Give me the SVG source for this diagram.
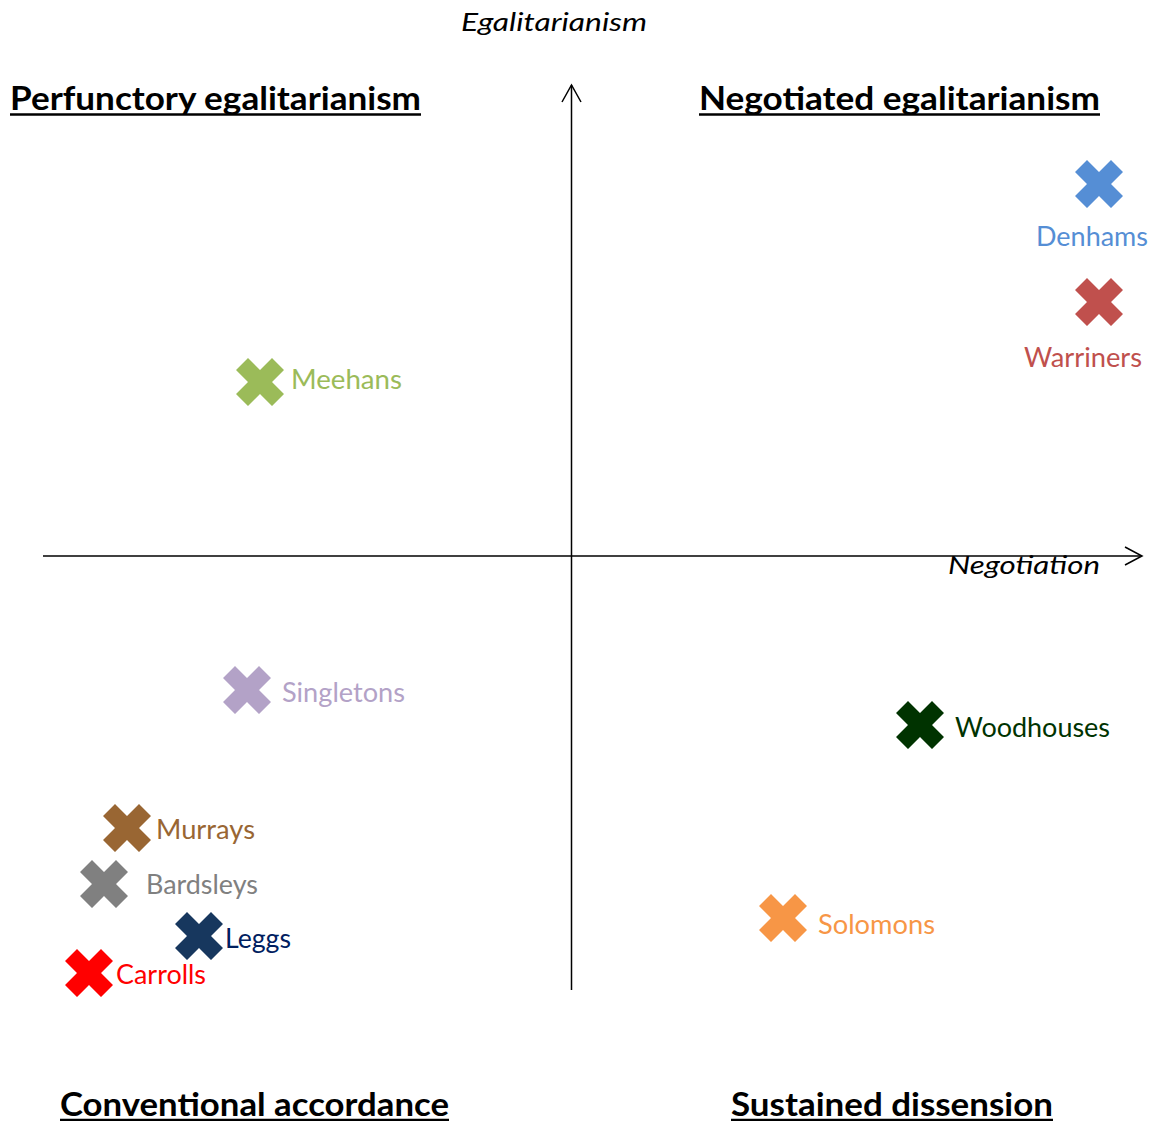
<svg xmlns="http://www.w3.org/2000/svg" width="1161" height="1121" viewBox="0 0 1161 1121">
<style>
.t{font-family:Lato,"Open Sans","Liberation Sans",sans-serif;}
.title{font-size:33px;font-weight:bold;fill:#000;}
.ul{stroke:#000;stroke-width:2.5;}
.axl{font-size:26px;font-style:italic;fill:#000;}
.lbl{font-size:26px;}
.ax{stroke:#000;stroke-width:1.5;fill:none;}
</style>
<defs>
<path id="x" d="M0,-12 L12,-24 L24,-12 L12,0 L24,12 L12,24 L0,12 L-12,24 L-24,12 L-12,0 L-24,-12 L-12,-24 Z"/>
</defs>
<rect width="1161" height="1121" fill="#fff"/>
<g id="connectors">
<line class="ax" x1="571.5" y1="990" x2="571.5" y2="85"/>
<polyline class="ax" points="562,102 571.5,85 581,102"/>
<line class="ax" x1="43" y1="556" x2="1141" y2="556"/>
<polyline class="ax" points="1125,547 1142,556 1125,565"/>
</g>
<g id="titles" class="t">
<text class="title" x="10" y="110" textLength="411" lengthAdjust="spacingAndGlyphs">Perfunctory egalitarianism</text>
<line class="ul" x1="10" y1="114.5" x2="421" y2="114.5"/>
<text class="title" x="699" y="110" textLength="401" lengthAdjust="spacingAndGlyphs">Negotiated egalitarianism</text>
<line class="ul" x1="699" y1="114.5" x2="1100" y2="114.5"/>
<text class="title" x="60" y="1116" textLength="389" lengthAdjust="spacingAndGlyphs">Conventional accordance</text>
<line class="ul" x1="60" y1="1120" x2="449" y2="1120"/>
<text class="title" x="731" y="1116" textLength="322" lengthAdjust="spacingAndGlyphs">Sustained dissension</text>
<line class="ul" x1="731" y1="1120" x2="1053" y2="1120"/>
<text class="axl" x="461" y="31" textLength="186" lengthAdjust="spacingAndGlyphs">Egalitarianism</text>
<text class="axl" x="948" y="574" textLength="152" lengthAdjust="spacingAndGlyphs">Negotiation</text>
</g>
<g id="denhams" class="t">
<use href="#x" x="1099" y="184" fill="#558ed5"/>
<text class="lbl" x="1036" y="246" fill="#558ed5" textLength="112" lengthAdjust="spacingAndGlyphs">Denhams</text>
</g>
<g id="warriners" class="t">
<use href="#x" x="1099" y="302" fill="#c0504d"/>
<text class="lbl" x="1024" y="367" fill="#c0504d" textLength="118" lengthAdjust="spacingAndGlyphs">Warriners</text>
</g>
<g id="meehans" class="t">
<use href="#x" x="260" y="382" fill="#9bbb59"/>
<text class="lbl" x="291" y="389" fill="#9bbb59" textLength="111" lengthAdjust="spacingAndGlyphs">Meehans</text>
</g>
<g id="singletons" class="t">
<use href="#x" x="247" y="690" fill="#b3a2c7"/>
<text class="lbl" x="282" y="702" fill="#b3a2c7" textLength="123" lengthAdjust="spacingAndGlyphs">Singletons</text>
</g>
<g id="woodhouses" class="t">
<use href="#x" x="920" y="725" fill="#003300"/>
<text class="lbl" x="955" y="737" fill="#003300" textLength="155" lengthAdjust="spacingAndGlyphs">Woodhouses</text>
</g>
<g id="murrays" class="t">
<use href="#x" x="127" y="828" fill="#996633"/>
<text class="lbl" x="156" y="839" fill="#996633" textLength="99" lengthAdjust="spacingAndGlyphs">Murrays</text>
</g>
<g id="bardsleys" class="t">
<use href="#x" x="104" y="884" fill="#808080"/>
<text class="lbl" x="146" y="894" fill="#808080" textLength="112" lengthAdjust="spacingAndGlyphs">Bardsleys</text>
</g>
<g id="leggs" class="t">
<use href="#x" x="199" y="936" fill="#17375e"/>
<text class="lbl" x="225" y="948" fill="#002060" textLength="66" lengthAdjust="spacingAndGlyphs">Leggs</text>
</g>
<g id="carrolls" class="t">
<use href="#x" x="89" y="973" fill="#ff0000"/>
<text class="lbl" x="116" y="984" fill="#ff0000" textLength="90" lengthAdjust="spacingAndGlyphs">Carrolls</text>
</g>
<g id="solomons" class="t">
<use href="#x" x="783" y="918" fill="#f79646"/>
<text class="lbl" x="818" y="934" fill="#f79646" textLength="117" lengthAdjust="spacingAndGlyphs">Solomons</text>
</g>
</svg>
